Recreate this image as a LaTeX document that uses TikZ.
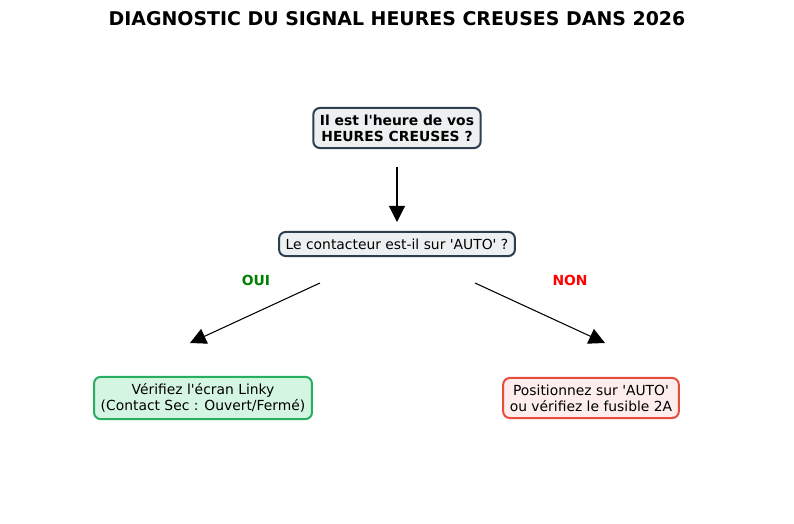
\documentclass[tikz,border=0pt]{standalone}
\usepackage{fontspec}
\setmainfont{DejaVu Sans}
\usetikzlibrary{arrows.meta,positioning}
\definecolor{darkline}{HTML}{2C3E50}
\definecolor{greyfill}{HTML}{ECF0F1}
\definecolor{okline}{HTML}{27AE60}
\definecolor{okfill}{HTML}{D5F5E3}
\definecolor{noline}{HTML}{E74C3C}
\definecolor{nofill}{HTML}{FDEDEC}
\definecolor{okgreen}{HTML}{008000}
\newcommand{\q}{\textquotesingle}
\tikzset{
  box/.style={draw=darkline,fill=greyfill,line width=1.5pt,rounded corners=5pt,align=center,font=\fontsize{10.4}{12}\selectfont,inner xsep=5pt,inner ysep=5pt},
  okbox/.style={box,draw=okline,fill=okfill},
  nobox/.style={box,draw=noline,fill=nofill},
  arr/.style={-{Triangle[width=12pt,length=12pt]},line width=0.8pt}
}
\begin{document}
\begin{tikzpicture}[x=0.75pt,y=-0.75pt]
        \useasboundingbox (0,0) rectangle (794,524);
        \node[font=\bfseries\fontsize{14.2}{16}\selectfont] (title) at (397,19) {DIAGNOSTIC DU SIGNAL HEURES CREUSES DANS 2026};
        \node[box,font=\bfseries\fontsize{10.4}{12}\selectfont] (q1) at (397,128) {Il est l\q heure de vos\\HEURES CREUSES ?};
        \node[box] (q2) at (397,244) {Le contacteur est-il sur \q AUTO\q{} ?};
        \node[okbox] (yes) at (203,398) {Vérifiez l\q écran Linky\\(Contact Sec : Ouvert/Fermé)};
        \node[nobox] (no) at (591,398) {Positionnez sur \q AUTO\q\\ou vérifiez le fusible 2A};
        \node[text=okgreen,font=\bfseries\fontsize{10.4}{12}\selectfont] (oui) at (256,280) {OUI};
        \node[text=red,font=\bfseries\fontsize{10.4}{12}\selectfont] (non) at (570,280) {NON};

        \coordinate (s1) at (397,167);
        \coordinate (e1) at (397,222);
        \coordinate (s2) at (320,283);
        \coordinate (e2) at (190,343);
        \coordinate (s3) at (475,283);
        \coordinate (e3) at (605,343);

        \draw[arr] (s1) to (e1);
        \draw[arr] (s2) to (e2);
        \draw[arr] (s3) to (e3);
\end{tikzpicture}
\end{document}
